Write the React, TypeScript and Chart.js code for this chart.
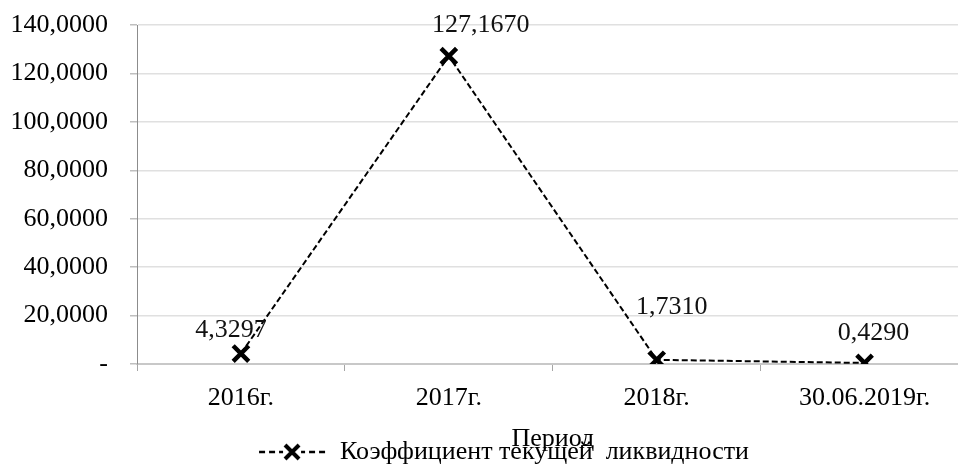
import React, { useEffect, useRef } from "react";
import { Chart, registerables } from "chart.js";

Chart.register(...registerables);

// ---- data ----
const categories = ["2016г.", "2017г.", "2018г.", "30.06.2019г."];
const values = [4.3297, 127.167, 1.731, 0.429];
const seriesName = "Коэффициент текущей  ликвидности";
const axisTitle = "Период";
const yMin = 0;
const yMax = 140;
const yStep = 20;

// ---- styles ----
const FONT_FAMILY = "'Liberation Serif', 'Times New Roman', serif";
const FONT_SIZE = 26;
const LABEL_OFFSETS: [number, number][] = [
  [-10, -23],
  [32, -31],
  [15, -53],
  [9, -30],
];
const LEGEND_SHIFT = 11;

const mkFont = () => ({ family: FONT_FAMILY, size: FONT_SIZE });
const fmt = (v: number) => (v === 0 ? "-" : v.toFixed(4).replace(".", ","));

Chart.defaults.font.family = FONT_FAMILY;
Chart.defaults.font.size = FONT_SIZE;
Chart.defaults.color = "#000";

const ICON_W = 70;

function makeLegendIcon(): HTMLCanvasElement {
  const c = document.createElement("canvas");
  c.width = ICON_W;
  c.height = 22;
  const ctx = c.getContext("2d")!;
  ctx.strokeStyle = "#000";
  ctx.lineWidth = 2.5;
  ctx.setLineDash([6, 4]);
  ctx.beginPath();
  ctx.moveTo(2, 11);
  ctx.lineTo(ICON_W - 2, 11);
  ctx.stroke();
  ctx.setLineDash([]);
  ctx.lineWidth = 4;
  const cx = ICON_W / 2;
  ctx.clearRect(cx - 9, 0, 18, 22);
  ctx.beginPath();
  ctx.moveTo(cx - 7, 11 - 7);
  ctx.lineTo(cx + 7, 11 + 7);
  ctx.moveTo(cx + 7, 11 - 7);
  ctx.lineTo(cx - 7, 11 + 7);
  ctx.stroke();
  return c;
}

const valueLabelPlugin = {
  id: "valueLabels",
  afterLayout(chart: any) {
    if (chart.legend) {
      chart.legend.left += LEGEND_SHIFT;
      chart.legend.right += LEGEND_SHIFT;
    }
  },
  afterDatasetsDraw(chart: any) {
    const ctx = chart.ctx;
    const meta = chart.getDatasetMeta(0);
    ctx.save();
    ctx.font = `${FONT_SIZE}px ${FONT_FAMILY}`;
    ctx.fillStyle = "#111";
    ctx.textAlign = "center";
    ctx.textBaseline = "middle";
    meta.data.forEach((pt: any, i: number) => {
      const off = LABEL_OFFSETS[i] || [0, -25];
      ctx.fillText(fmt(values[i]), pt.x + off[0], pt.y + off[1]);
    });
    ctx.restore();
  },
};

export default function App() {
  const ref = useRef<HTMLCanvasElement | null>(null);

  useEffect(() => {
    if (!ref.current) return;
    const chart = new Chart(ref.current, {
      type: "line",
      data: {
        labels: categories,
        datasets: [
          {
            label: seriesName,
            data: values,
            borderColor: "#000",
            borderWidth: 2,
            borderDash: [6, 3],
            backgroundColor: "#000",
            pointStyle: "crossRot",
            pointRadius: 11,
            pointBorderWidth: 4.5,
            pointBorderColor: "#000",
            fill: false,
            tension: 0,
          },
        ],
      },
      options: {
        responsive: false,
        animation: false,
        layout: { padding: { left: 0, right: 0, top: 25, bottom: 0 } },
        plugins: {
          legend: {
            position: "bottom",
            labels: {
              usePointStyle: true,
              pointStyle: makeLegendIcon() as any,
              pointStyleWidth: ICON_W,
              font: mkFont(),
              color: "#000",
              padding: 0,
            },
          },
          tooltip: { enabled: false },
        },
        scales: {
          x: {
            type: "category",
            offset: true,
            grid: {
              offset: true,
              drawOnChartArea: false,
              tickLength: 7,
              color: "#a6a6a6",
            },
            border: { color: "#c8c8c8", width: 2 },
            ticks: {
              font: mkFont(),
              color: "#000",
              padding: 12,
              maxRotation: 0,
              autoSkip: false,
            },
            title: {
              display: true,
              text: axisTitle,
              font: mkFont(),
              color: "#000",
              padding: { top: 0, bottom: -16 },
            },
            afterFit: (s: any) => {
              s.height = 75;
              s.paddingLeft = 0;
              s.paddingRight = 0;
            },
          },
          y: {
            min: yMin,
            max: yMax,
            ticks: {
              stepSize: yStep,
              font: mkFont(),
              color: "#000",
              padding: 22,
              callback: (v: any) => fmt(Number(v)),
            },
            grid: {
              color: "#e0e0e0",
              lineWidth: 1.5,
              tickLength: 7,
              tickColor: "#bfbfbf",
            },
            border: { color: "#8c8c8c", width: 1 },
            afterFit: (s: any) => {
              s.width = 137;
              s.paddingTop = 0;
              s.paddingBottom = 0;
            },
          },
        },
      },
      plugins: [valueLabelPlugin],
    });
    return () => chart.destroy();
  }, []);

  return (
    <div
      style={{
        position: "fixed",
        left: 0,
        top: 0,
        width: 958,
        height: 465,
        overflow: "hidden",
        background: "#fff",
      }}
    >
      <canvas ref={ref} width={984} height={475} style={{ display: "block" }} />
    </div>
  );
}
